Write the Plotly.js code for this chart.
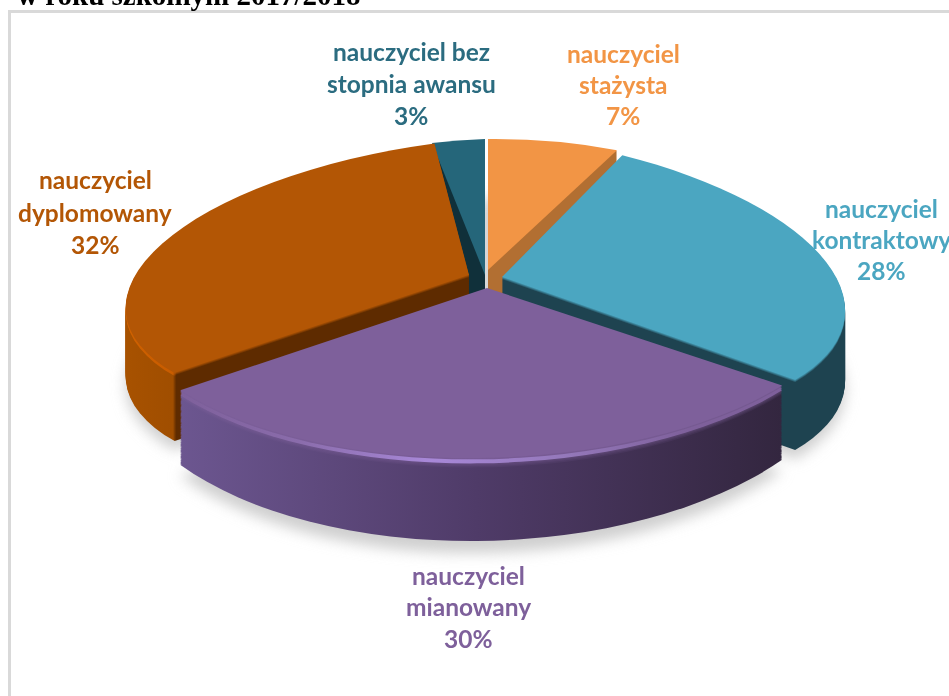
<!DOCTYPE html>
<html>
<head>
<meta charset="utf-8">
<script src="https://cdn.plot.ly/plotly-3.0.1.min.js"></script>
<style>html,body{margin:0;padding:0;background:#fff;overflow:hidden}#c{width:949px;height:696px}</style>
</head>
<body>
<div id="c"></div>
<script>
var categories = ['nauczyciel stażysta','nauczyciel kontraktowy','nauczyciel mianowany','nauczyciel dyplomowany','nauczyciel bez stopnia awansu'];
var values = [7, 28, 30, 32, 3];
var titleText = 'w roku szkolnym 2017/2018';
var labelLines = [['nauczyciel','stażysta'],['nauczyciel','kontraktowy'],['nauczyciel','mianowany'],['nauczyciel','dyplomowany'],['nauczyciel bez','stopnia awansu']];

// styling
var faceColors = ['#f29545','#4ba6c1','#7e609b','#b35605','#25667a'];
var textColors = ['#f29545','#4ba6c1','#7e609b','#b35605','#2b6c80'];
var wallStops = [
  [[0,'#b26f32'],[1,'#b26f32']],
  [[0,'#1e4350'],[1,'#1e4350']],
  [[0,'#6c5690'],[0.5,'#4f3b68'],[1,'#33263f']],
  [[0,'#a85200'],[0.185,'#a04e00'],[0.195,'#5e2b00'],[1,'#5e2b00']],
  [[0,'#10303a'],[1,'#10303a']]
];
var rimSize = [1,3,8,3,1];
// placement of each slice on the tilted plate: vertex and linear map
var place = [
  {vx:488,vy:270,a:303,b:-3,c:0,d:131,depth:50,grow:0},
  {vx:502,vy:277,a:342,b:22,c:28,d:145,depth:70,grow:0},
  {vx:487,vy:288,a:372,b:-3,c:-10,d:170,depth:62,grow:21},
  {vx:469,vy:275,a:342,b:-21,c:-30,d:138,depth:68,grow:0},
  {vx:485,vy:275,a:283,b:-9,c:0,d:136,depth:50,grow:0,wallVx:470,wallC:-15}
];
var paintOrder = [0,4,1,3,2];
var labelPos = [[623,53,31.5],[881,208,31],[468,575,31.5],[95,180,32],[411,52,31.5]];

function hex(c){return [1,3,5].map(function(i){return parseInt(c.substr(i,2),16);});}
function mix(c1,c2,f){var a=hex(c1),b=hex(c2);return 'rgb('+a.map(function(v,i){return Math.round(v+(b[i]-v)*f);}).join(',')+')';}

var STEP = 1;
var specs = [];
specs.push({shadow:true});
paintOrder.forEach(function(i){
  for (var off = place[i].depth; off >= 0; off -= STEP) {
    if (off > 0 && place[i].wallVx !== undefined) specs.push({slice:i, off:off, plain:true});
    specs.push({slice:i, off:off});
  }
});

var traces = specs.map(function(){
  return {type:'pie', values:values, labels:categories, sort:false, direction:'clockwise', rotation:0,
    textinfo:'none', hoverinfo:'skip', showlegend:false, marker:{colors:faceColors, line:{width:0}}};
});

var annotations = [{text:'<b>'+titleText+'</b>', xref:'paper', yref:'paper', x:15/949, xanchor:'left', y:1-(-5)/696, yanchor:'middle',
  showarrow:false, font:{family:'Liberation Serif', size:29, color:'#000'}}];
categories.forEach(function(cat,i){
  var lines = labelLines[i].concat([values[i]+'%']);
  lines.forEach(function(t,k){
    annotations.push({text:'<b>'+t+'</b>', xref:'paper', yref:'paper', x:labelPos[i][0]/949, xanchor:'center',
      y:1-(labelPos[i][1]+k*labelPos[i][2])/696, yanchor:'middle', showarrow:false,
      font:{family:'Lato', size:24.5, color:textColors[i]}});
  });
});

var layout = {width:949, height:696, margin:{l:0,r:0,t:0,b:0}, paper_bgcolor:'#fff', showlegend:false,
  annotations:annotations,
  shapes:[{type:'path', xref:'paper', yref:'paper', layer:'below',
    path:'M '+(9.5/949)+' 0 L '+(9.5/949)+' '+(1-11.5/696)+' L 1 '+(1-11.5/696),
    line:{color:'#d9d9d9', width:3}}]};

var gd = document.getElementById('c');
Plotly.newPlot(gd, traces, layout, {displayModeBar:false, staticPlot:true}).then(function(){
  var NS = 'http://www.w3.org/2000/svg';
  var svg = gd.querySelector('svg.main-svg');
  var defs = svg.querySelector('defs') || svg.insertBefore(document.createElementNS(NS,'defs'), svg.firstChild);
  var blur = document.createElementNS(NS,'filter');
  blur.setAttribute('id','shadowBlur');
  ['x','y'].forEach(function(k){blur.setAttribute(k,'-20%');});
  blur.setAttribute('width','140%'); blur.setAttribute('height','140%');
  var fb = document.createElementNS(NS,'feGaussianBlur'); fb.setAttribute('stdDeviation','7'); blur.appendChild(fb);
  defs.appendChild(blur);

  var cd = gd.calcdata[0][0], cx = cd.cx, cy = cd.cy, R = cd.r;
  function tf(i,off,isWall){
    var p = place[i];
    var d = p.d + (p.depth ? p.grow * off / p.depth : 0);
    var vx = (isWall && p.wallVx !== undefined) ? p.wallVx : p.vx;
    var c = (isWall && p.wallC !== undefined) ? p.wallC : p.c;
    return 'translate('+vx+','+(p.vy+off)+') matrix('+(p.a/R)+','+(p.b/R)+','+(c/R)+','+(d/R)+',0,0) translate('+(-cx)+','+(-cy)+')';
  }
  function addStops(lg, list){
    list.forEach(function(st){
      var stop = document.createElementNS(NS,'stop');
      stop.setAttribute('offset',st[0]); stop.setAttribute('stop-color',st[1]); lg.appendChild(stop);
    });
  }
  var groups = gd.querySelectorAll('.pielayer .trace');
  groups.forEach(function(g,n){
    var s = specs[n], slices = g.querySelectorAll('.slice');
    if (s.shadow) {
      g.setAttribute('filter','url(#shadowBlur)');
      slices.forEach(function(sl,i){
        sl.setAttribute('transform', tf(i, place[i].depth + 9));
        sl.querySelector('path').style.fill = '#cfcfcf';
      });
      return;
    }
    slices.forEach(function(sl,i){
      if (i !== s.slice) { sl.parentNode.removeChild(sl); return; }
      sl.setAttribute('transform', tf(i, s.off, s.off > 0 && !s.plain));
      var path = sl.querySelector('path');
      if (s.off === 0) return;
      var f = Math.min(1, s.off / rimSize[i]);
      var id = 'g'+n;
      var lg = document.createElementNS(NS,'linearGradient');
      lg.setAttribute('id',id);
      if (i === 2 && s.off >= 2 && s.off <= 4) {
        addStops(lg, [[0,faceColors[2]],[0.2,'#8a6cab'],[0.42,'#a888d8'],[0.65,'#9478ba'],[0.85,faceColors[2]],[1,faceColors[2]]]);
      } else if (i === 3 && s.off <= 3) {
        addStops(lg, [[0,'#d06200'],[0.185,'#c85c00'],[0.195,mix(faceColors[3],'#5e2b00',f)],[1,mix(faceColors[3],'#5e2b00',f)]]);
      } else {
        addStops(lg, wallStops[i].map(function(st){return [st[0], mix(faceColors[i], st[1], f)];}));
      }
      defs.appendChild(lg);
      path.style.fill = 'url(#'+id+')';
    });
  });
});
</script>
</body>
</html>
